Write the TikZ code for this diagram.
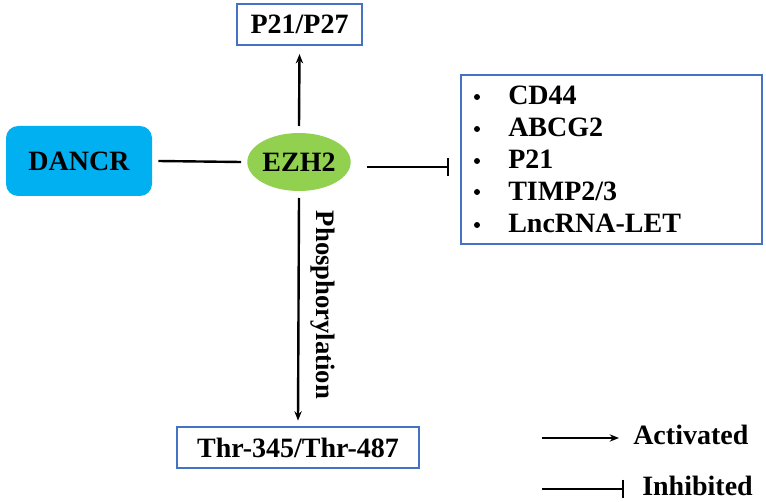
\documentclass[tikz,border=0pt]{standalone}
\usepackage{fontspec}
\setmainfont{Liberation Serif}
\usetikzlibrary{arrows.meta,shapes.geometric}
\definecolor{boxblue}{HTML}{4472C4}
\definecolor{dancrblue}{HTML}{00B0F0}
\definecolor{ezhgreen}{HTML}{92D050}
\tikzset{
  lbl/.style={font=\fontsize{21}{24}\selectfont\bfseries, inner sep=0pt},
  bluebox/.style={draw=boxblue, line width=1.6pt, inner sep=0pt},
  conn/.style={line width=1.8pt, black},
  act/.style={conn, -{Stealth[length=7pt,width=5.5pt]}},
  inh/.style={conn, -{Bar[width=14pt,line width=1.8pt]}},
  dot/.style={circle, fill=black, inner sep=0pt, minimum size=4.5pt},
}
\begin{document}
\begin{tikzpicture}[x=0.75pt,y=-0.75pt]
\useasboundingbox (0,0) rectangle (766,502);
% main nodes
\node[fill=dancrblue, rounded corners=9pt, minimum width=109.5pt, minimum height=52.5pt, lbl] (dancr) at (79,161) {DANCR};
\node[ellipse, fill=ezhgreen, minimum width=73.5pt, minimum height=43.5pt, lbl] (ezh2) at (299,162) {EZH2};
\node[bluebox, minimum width=93.75pt, minimum height=30.75pt] (p21p27) at (299.5,24.5) {};
\node[lbl] at (p21p27) {P21/P27};
\node[bluebox, minimum width=181.5pt, minimum height=30.75pt] (thr) at (298,447.5) {};
\node[lbl] at (thr) {Thr-345/Thr-487};
\node[bluebox, minimum width=225.75pt, minimum height=126.75pt] (targets) at (611.5,159.5) {};
% items
\foreach \t/\y [count=\i] in {CD44/105, ABCG2/137, P21/169, TIMP2\slash 3/200, LncRNA-LET/233}{
  \node[dot] (b\i) at (477,\y-8) {};
  \node[lbl, anchor=base west] (it\i) at (508,\y) {\t};
}
% connectors
\coordinate (ezhtop) at (299,126);
\coordinate (ezhbot) at (299,198);
\coordinate (ezhright) at (367,167);
\draw[conn] ([xshift=-4.5pt]ezh2.west) -- ([xshift=4.5pt]dancr.east);
\draw[act] (ezhtop) -- ([yshift=-6pt]p21p27.south);
\draw[act] (ezhbot) -- ([yshift=4pt]thr.north);
\draw[inh] (ezhright) -- ([xshift=-8pt]targets.west |- ezhright);
\node[lbl, font=\fontsize{20}{24}\selectfont\bfseries, rotate=-90] (phos) at (323,305) {Phosphorylation};
% legend
\coordinate (a1) at (542,438);
\coordinate (a2) at (619,438);
\coordinate (i1) at (542,489);
\coordinate (i2) at (624,489);
\draw[act] (a1) -- (a2);
\draw[inh] (i1) -- (i2);
\node[lbl, anchor=base west] (activ) at (633,444) {Activated};
\node[lbl, anchor=base west] (inhib) at (642,495) {Inhibited};
\end{tikzpicture}
\end{document}
